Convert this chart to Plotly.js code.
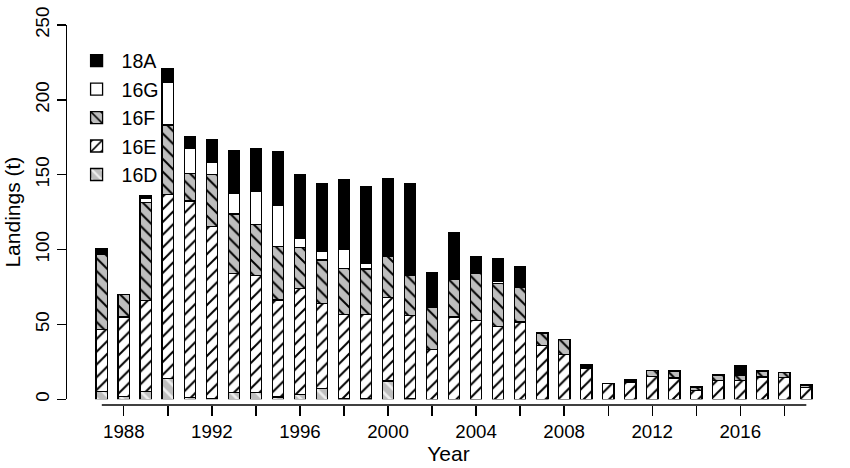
<!DOCTYPE html>
<html>
<head>
<meta charset="utf-8">
<script src="https://cdn.plot.ly/plotly-3.0.1.min.js"></script>
<style>html,body{margin:0;padding:0;background:#fff;}#chart{width:850px;height:468px;}</style>
</head>
<body>
<div id="chart"></div>
<script>
var years = [1987,1988,1989,1990,1991,1992,1993,1994,1995,1996,1997,1998,1999,2000,2001,2002,2003,2004,2005,2006,2007,2008,2009,2010,2011,2012,2013,2014,2015,2016,2017,2018,2019];
var d16D = [5,2,5.3,13.8,1,0.5,4.4,4.4,1.6,3,7,0.3,0.3,12.2,0.3,0,0,0,0,0,0,0,0,0,0,0,0,0,0,0,0,0,0];
var d16E = [41.4,52.9,60.7,123.2,131.4,115.1,79.4,78.3,64.8,70.8,57.2,56.4,56.4,55.6,55.7,33.1,54.9,52.7,48.7,51.6,36,30,20.9,10.4,11.6,15.3,14.2,6,12.7,12.7,14.9,14.4,7.8];
var d16F = [50.7,15.1,65.6,46.3,18.5,34.4,40,34.2,35.6,27.8,28.9,30.9,30.4,27.5,27.1,28,25.5,31.7,28.8,23.4,8.2,10,1.3,0,0.6,4,4.7,2.2,3.3,3.3,4,3.4,1.2];
var d16G = [0,0,2.6,28.7,16.7,8,14,21.8,27.6,5.7,5.8,12.4,3.8,0,0,0,0,0,1.4,1.4,0,0,0.5,0,0,0,0,0,0,0,0,0,0.8];
var d18A = [3.3,0,1.6,9,7.9,15.3,28,28.9,35.5,42.7,45.1,46.7,50.9,52,61.1,23.3,31.2,10.7,15.1,12,0.3,0,0.5,0,0.8,0,0,0,0.3,6.2,0,0,0];
var xTickVals = [1988,1990,1992,1994,1996,1998,2000,2002,2004,2006,2008,2010,2012,2014,2016,2018];
var xTickText = ['1988','','1992','','1996','','2000','','2004','','2008','','2012','','2016',''];
var yTickVals = [0,50,100,150,200,250];

var FONT = 'Liberation Sans, Arial, Helvetica, sans-serif';
var lineStyle = {color:'black', width:1.3};
var barW = 0.52;

function mk(name, vals, marker){
  return {type:'bar', name:name, x:years, y:vals, width:barW, marker:marker, hoverinfo:'x+y+name'};
}
var traces = [
  mk('16D', d16D, {color:'#bebebe', line:lineStyle, pattern:{shape:'\\', bgcolor:'#bebebe', fgcolor:'#eeeeee', size:9, solidity:0.3}}),
  mk('16E', d16E, {color:'white', line:lineStyle, pattern:{shape:'/', bgcolor:'white', fgcolor:'black', size:9, solidity:0.22}}),
  mk('16F', d16F, {color:'#bebebe', line:lineStyle, pattern:{shape:'\\', bgcolor:'#bebebe', fgcolor:'black', size:9, solidity:0.22}}),
  mk('16G', d16G, {color:'white', line:lineStyle}),
  mk('18A', d18A, {color:'black', line:lineStyle})
];

var layout = {
  width:850, height:468,
  margin:{l:67, r:20, t:25, b:63},
  paper_bgcolor:'white', plot_bgcolor:'white',
  barmode:'stack',
  font:{family:FONT, size:19, color:'black'},
  showlegend:true,
  legend:{x:0.006, y:0.957, xanchor:'left', yanchor:'top', traceorder:'reversed', font:{family:FONT, size:19.6, color:'black'}, bgcolor:'rgba(0,0,0,0)', itemwidth:40},
  xaxis:{
    range:[1985.419, 2020.076], anchor:'free', position:0,
    tickmode:'array', tickvals:xTickVals, ticktext:xTickText,
    ticks:'outside', ticklen:10, tickwidth:1.3, tickcolor:'black',
    showline:false, showgrid:false, zeroline:false,
    tickfont:{family:FONT, size:18.7, color:'black'},
    title:{text:'Year', font:{family:FONT, size:21, color:'black'}, standoff:4}
  },
  yaxis:{
    domain:[0.015, 1], range:[0, 250],
    tickmode:'array', tickvals:yTickVals,
    ticks:'outside', ticklen:9, tickwidth:1.3, tickcolor:'black',
    showline:true, linecolor:'black', linewidth:1.3,
    showgrid:false, zeroline:false, tickangle:-90,
    tickfont:{family:FONT, size:18.7, color:'black'},
    title:{text:'Landings (t)', font:{family:FONT, size:21, color:'black'}, standoff:6}
  },
  shapes:[{type:'line', xref:'x', yref:'paper', x0:1987, x1:2019, y0:0, y1:0, line:{color:'black', width:1.3}}]
};
Plotly.newPlot('chart', traces, layout, {displayModeBar:false, staticPlot:true});
</script>
</body>
</html>
